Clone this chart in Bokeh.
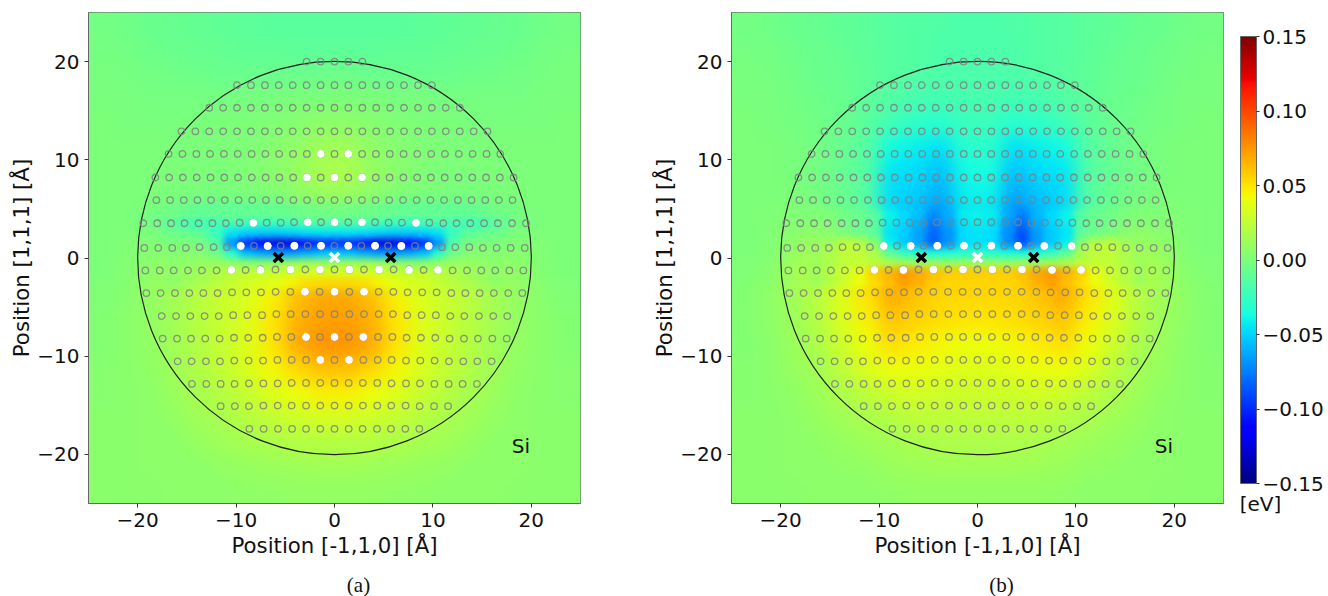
import numpy as np
from bokeh.embed import file_html
from bokeh.layouts import column, row
from bokeh.models import ColorBar, FixedTicker, Label, LinearColorMapper, Range1d
from bokeh.plotting import figure
from bokeh.resources import INLINE

# ---------- field, in meV, top row first ----------
BASE_A = [
 [-3,-4,-6,-8,-9,-10,-11,-12,-12,-12,-12,-12,-12,-11,-10,-9,-8,-6,-4,-3],
 [-2,-3,-5,-6,-8,-9,-10,-10,-11,-11,-11,-11,-10,-10,-9,-8,-6,-5,-3,-2],
 [-1,-2,-3,-4,-5,-6,-6,-6,-6,-5,-5,-6,-6,-6,-6,-5,-4,-3,-2,-1],
 [-1,-1,-2,-2,-2,-2,-1,-1,0,1,1,0,-1,-1,-2,-2,-2,-2,-1,-1],
 [0,-1,-1,-1,-1,0,1,2,4,6,6,4,2,1,0,-1,-1,-1,-1,0],
 [0,0,0,0,0,1,2,4,8,13,13,8,4,2,1,0,0,0,0,0],
 [0,0,0,0,0,1,2,5,10,17,17,10,5,2,1,0,0,0,0,0],
 [0,0,0,0,-1,-1,0,2,6,10,10,6,2,0,-1,-1,0,0,0,0],
 [0,0,-3,-10,-20,-22,-25,-25,-22,-17,-17,-22,-25,-25,-22,-20,-10,-3,0,0],
 [1,2,3,3,0,-30,-80,-90,-90,-85,-85,-90,-90,-80,-30,0,3,3,2,1],
 [1,3,7,12,18,24,26,28,30,32,32,30,28,26,24,18,12,7,3,1],
 [2,4,9,15,22,29,35,45,62,68,68,62,45,35,29,22,15,9,4,2],
 [3,5,9,15,22,29,36,50,66,72,72,66,50,36,29,22,15,9,5,3],
 [3,5,9,14,21,28,36,50,68,76,76,68,50,36,28,21,14,9,5,3],
 [4,5,8,13,19,26,34,44,55,62,62,55,44,34,26,19,13,8,5,4],
 [4,5,7,11,16,22,28,36,42,46,46,42,36,28,22,16,11,7,5,4],
 [5,5,6,9,13,17,22,26,30,32,32,30,26,22,17,13,9,6,5,5],
 [5,5,6,7,10,13,16,18,20,21,21,20,18,16,13,10,7,6,5,5],
 [5,5,6,6,7,9,10,11,12,13,13,12,11,10,9,7,6,6,5,5],
 [5,5,5,6,6,7,8,8,9,9,9,9,8,8,7,6,6,5,5,5],
]
BAND_A = [
 [-3,-5,-7,-7,-6,-6,-5,-4,-3,-2,-1,-1,-1,-2,-3,-4,-5,-6,-6,-7,-7,-5,-3],
 [-12,-20,-22,-20,-18,-22,-25,-25,-22,-18,-16,-16,-16,-18,-22,-25,-25,-22,-18,-20,-22,-20,-12],
 [-5,-8,-12,-25,-45,-50,-52,-52,-50,-46,-45,-45,-45,-46,-50,-52,-52,-50,-45,-25,-12,-8,-5],
 [0,0,-2,-15,-70,-100,-115,-125,-125,-108,-100,-100,-100,-108,-125,-125,-115,-100,-70,-15,-2,0,0],
 [3,4,3,-5,-30,-55,-62,-65,-65,-60,-55,-52,-55,-60,-65,-65,-62,-55,-30,-5,3,4,3],
 [5,8,10,10,8,5,5,8,10,12,12,12,12,12,10,8,5,5,8,10,10,8,5],
 [6,10,14,18,22,25,25,28,30,32,32,32,32,32,30,28,25,25,22,18,14,10,6],
 [7,12,17,22,28,32,34,38,45,52,55,55,55,52,45,38,34,32,28,22,17,12,7],
]
BASE_B = [
 [-3,-4,-6,-8,-10,-11,-13,-15,-16,-17,-17,-16,-15,-13,-11,-10,-8,-6,-4,-3],
 [-2,-3,-5,-7,-9,-11,-13,-15,-17,-17,-17,-17,-15,-13,-11,-9,-7,-5,-3,-2],
 [-1,-2,-4,-6,-8,-10,-13,-15,-17,-17,-17,-17,-15,-13,-10,-8,-6,-4,-2,-1],
 [-1,-1,-3,-5,-7,-11,-15,-19,-20,-19,-19,-20,-19,-15,-11,-7,-5,-3,-1,-1],
 [0,-1,-2,-4,-7,-12,-22,-28,-30,-24,-24,-30,-28,-22,-12,-7,-4,-2,-1,0],
 [0,0,-1,-3,-8,-15,-38,-42,-46,-30,-30,-46,-42,-38,-15,-8,-3,-1,0,0],
 [0,0,-1,-3,-8,-15,-45,-47,-56,-38,-36,-56,-47,-45,-15,-8,-3,-1,0,0],
 [1,0,0,-2,-7,-15,-48,-52,-62,-42,-40,-64,-54,-48,-15,-7,-2,0,0,1],
 [1,2,3,0,-6,-15,-50,-58,-72,-46,-45,-74,-60,-50,-15,-6,0,3,2,1],
 [1,2,8,14,10,-10,-40,-55,-55,-40,-38,-55,-55,-40,-10,10,14,8,2,1],
 [2,4,14,22,38,58,68,62,58,58,58,58,62,68,58,38,22,14,4,2],
 [3,6,13,22,36,50,68,60,55,54,54,55,60,68,50,36,22,13,6,3],
 [3,6,12,20,34,46,60,56,52,50,50,52,56,60,46,34,20,12,6,3],
 [3,5,11,18,30,42,52,48,44,42,42,44,48,52,42,30,18,11,5,3],
 [4,5,10,15,24,34,42,40,38,36,36,38,40,42,34,24,15,10,5,4],
 [4,5,8,12,18,24,30,32,30,30,30,30,32,30,24,18,12,8,5,4],
 [5,5,7,10,13,17,21,24,24,24,24,24,24,21,17,13,10,7,5,5],
 [5,5,6,8,10,12,15,17,18,18,18,18,17,15,12,10,8,6,5,5],
 [5,5,6,6,8,9,11,12,13,13,13,13,12,11,9,8,6,6,5,5],
 [5,5,5,6,6,7,8,9,9,9,9,9,9,8,7,6,6,5,5,5],
]
BAND_B = [
 [2,0,-4,-6,-12,-40,-48,-55,-70,-60,-42,-40,-42,-60,-74,-58,-48,-40,-12,-6,-4,0,2],
 [3,2,-3,-6,-12,-42,-50,-60,-76,-64,-45,-42,-45,-66,-80,-62,-50,-42,-12,-6,-3,2,3],
 [6,5,-1,-5,-11,-45,-52,-64,-82,-68,-48,-45,-48,-70,-88,-66,-52,-45,-11,-5,-1,5,6],
 [10,14,25,22,5,-42,-52,-64,-84,-68,-48,-45,-48,-70,-90,-66,-52,-42,5,22,25,14,10],
 [12,18,25,25,18,-10,-25,-32,-35,-33,-30,-30,-30,-33,-35,-32,-25,-10,18,25,25,18,12],
 [12,18,24,25,22,18,15,12,10,10,10,10,10,10,10,12,15,18,22,25,24,18,12],
 [12,20,30,40,58,66,74,70,62,58,58,58,58,58,62,70,74,66,58,40,30,20,12],
 [12,20,30,40,52,62,72,66,58,55,55,55,55,55,58,66,72,62,52,40,30,20,12],
]

# ---------- atoms, one row per lattice plane (Angstrom) ----------
ATOM_X = [
 [-2.83,-1.41,0,1.41,2.83],
 [-9.9,-8.49,-7.07,-5.66,-4.24,-2.83,-1.41,0,1.41,2.83,4.24,5.66,7.07,8.49,9.9],
 [-12.73,-11.31,-9.9,-8.49,-7.07,-5.66,-4.24,-2.83,-1.41,0,1.41,2.83,4.24,5.66,7.07,8.49,9.9,11.31,12.73],
 [-15.55,-14.14,-12.73,-11.31,-9.9,-8.49,-7.07,-5.66,-4.24,-2.83,-1.41,0,1.41,2.83,4.24,5.66,7.07,8.49,9.9,11.31,12.73,14.14,15.55],
 [-16.85,-15.45,-14.04,-12.64,-11.23,-9.83,-8.42,-7.02,-5.62,-4.21,-2.81,-1.4,0,1.4,2.81,4.21,5.62,7.02,8.42,9.83,11.23,12.64,14.04,15.45,16.85],
 [-18.2,-16.8,-15.4,-14.0,-12.6,-11.2,-9.8,-8.4,-7.0,-5.6,-4.2,-2.8,-1.4,0,1.4,2.8,4.2,5.6,7.0,8.4,9.8,11.2,12.6,14.0,15.4,16.8,18.2],
 [-18.1,-16.71,-15.32,-13.93,-12.54,-11.14,-9.75,-8.36,-6.97,-5.57,-4.18,-2.79,-1.39,0,1.39,2.79,4.18,5.57,6.97,8.36,9.75,11.14,12.54,13.93,15.32,16.71,18.1],
 [-19.43,-18.01,-16.61,-15.23,-13.81,-12.41,-11.03,-9.64,-8.25,-6.89,-5.47,-4.11,-2.72,-1.37,0,1.4,2.79,4.12,5.5,6.86,8.28,9.64,11.06,12.41,13.8,15.2,16.6,18.04,19.46],
 [-19.33,-17.91,-16.49,-15.1,-13.71,-12.28,-10.93,-9.53,-8.18,-6.79,-5.47,-4.08,-2.72,-1.37,-0.02,1.4,2.73,4.12,5.44,6.79,8.18,9.57,10.92,12.28,13.7,15.09,16.48,17.9,19.33],
 [-19.22,-17.76,-16.34,-14.89,-13.47,-11.98,-10.48,-9.03,-7.53,-6.0,-4.48,-2.96,-1.47,0,1.51,3.0,4.52,6.01,7.57,9.06,10.52,12.01,13.47,14.92,16.34,17.77,19.19],
 [-19.12,-17.67,-16.21,-14.75,-13.33,-11.88,-10.41,-8.96,-7.47,-5.98,-4.49,-3.0,-1.51,0,1.51,3.0,4.49,5.98,7.43,8.92,10.38,11.87,13.3,14.75,16.2,17.66,19.09],
 [-17.56,-16.1,-14.65,-13.2,-11.76,-10.3,-8.85,-7.36,-5.91,-4.45,-2.96,-1.47,0,1.51,3.0,4.49,5.94,7.4,8.86,10.3,11.77,13.2,14.68,16.14,17.56],
 [-17.46,-16.0,-14.58,-13.13,-11.67,-10.21,-8.76,-7.3,-5.84,-4.39,-2.89,-1.47,0,1.47,2.93,4.42,5.88,7.33,8.79,10.25,11.7,13.16,14.58,16.04,17.5],
 [-15.94,-14.52,-13.06,-11.64,-10.18,-8.72,-7.26,-5.8,-4.35,-2.89,-1.44,0,1.47,2.93,4.39,5.81,7.27,8.72,10.18,11.64,13.09,14.52,15.97],
 [-14.48,-13.02,-11.57,-10.15,-8.69,-7.23,-5.77,-4.35,-2.89,-1.44,0,1.44,2.89,4.35,5.8,7.27,8.69,10.15,11.6,13.02,14.48],
 [-11.57,-10.12,-8.69,-7.23,-5.77,-4.35,-2.89,-1.44,0,1.44,2.89,4.35,5.77,7.23,8.66,10.12,11.54],
 [-8.65,-7.2,-5.74,-4.31,-2.89,-1.44,0,1.44,2.86,4.32,5.74,7.2,8.62],
]
ATOM_Y = [
 [20.0]*5,
 [17.6]*15,
 [15.3]*19,
 [12.9]*23,
 [10.6]*25,
 [8.2]*27,
 [5.9]*27,
 [3.54]*7+[3.6]*4+[3.64]*7+[3.6]*4+[3.54]*7,
 [1.03]*4+[1.1]*3+[1.24]*15+[1.1]*3+[1.03]*4,
 [-1.27]*6+[-1.22]*2+[-1.17]*11+[-1.22]*2+[-1.27]*6,
 [-3.57]*6+[-3.5]*3+[-3.44]*9+[-3.5]*3+[-3.57]*6,
 [-5.91]*5+[-5.82]*3+[-5.71]*9+[-5.82]*3+[-5.91]*5,
 [-8.21]*5+[-8.12]*3+[-8.04]*9+[-8.12]*3+[-8.21]*5,
 [-10.52]*4+[-10.45]*3+[-10.38]*9+[-10.45]*3+[-10.52]*4,
 [-12.82]*4+[-12.77]*3+[-12.72]*7+[-12.77]*3+[-12.82]*4,
 [-15.09]*3+[-15.03]*11+[-15.09]*3,
 [-17.4]*13,
]
WHITE_A_X = [-1.4,1.4,-2.8,0,2.8,-8.25,-2.72,0,2.79,8.28,
             -9.53,-6.79,-4.08,-1.37,1.4,4.12,6.79,9.57,
             -10.48,-7.53,-4.48,-1.47,1.51,4.52,7.57,10.52,
             -3.0,0,3.0,-2.89,0,2.93,-1.44,1.47]
WHITE_A_Y = [10.6,10.6,8.2,8.2,8.2,3.58,3.64,3.64,3.64,3.58,
             1.22,1.22,1.24,1.24,1.24,1.24,1.22,1.22,
             -1.22,-1.22,-1.17,-1.17,-1.17,-1.17,-1.22,-1.22,
             -3.44,-3.44,-3.44,-8.04,-8.04,-8.04,-10.38,-10.38]
WHITE_B_X = [-9.53,-6.79,-4.08,-1.37,1.4,4.12,6.79,9.57,
             -10.48,-7.53,-4.48,-1.47,1.51,4.52,7.57,10.52]
WHITE_B_Y = [1.22,1.22,1.24,1.24,1.24,1.24,1.22,1.22,
             -1.22,-1.22,-1.17,-1.17,-1.17,-1.17,-1.22,-1.22]
BLACK_X = [-5.71, 5.71]
CROSS_Y = [0.05, 0.05]
WHITE_CROSS_X = [0]
WHITE_CROSS_Y = [0.05]

AXIS_TICKS = [-20, -10, 0, 10, 20]
CB_TICKS = [-0.15, -0.10, -0.05, 0.0, 0.05, 0.10, 0.15]
CB_LABELS = ["\u22120.15", "\u22120.10", "\u22120.05", "0.00", "0.05", "0.10", "0.15"]

# ---------- jet colour map ----------
t = np.linspace(0, 1, 256)
r = np.interp(t, [0, .35, .66, .89, 1], [0, 0, 1, 1, .5])
g = np.interp(t, [0, .125, .375, .64, .91, 1], [0, 0, 1, 1, 0, 0])
b = np.interp(t, [0, .11, .34, .65, 1], [.5, 1, 1, 0, 0])
JET = ["#%02x%02x%02x" % (int(a*255), int(c*255), int(d*255)) for a, c, d in zip(r, g, b)]
mapper = LinearColorMapper(palette=JET, low=-0.15, high=0.15)


def panel(base, band, wx, wy, width, border_right):
    p = figure(width=width, height=565, output_backend="svg", toolbar_location=None,
               x_range=Range1d(-25, 25), y_range=Range1d(-25, 25),
               min_border_left=88, min_border_right=border_right,
               min_border_top=12, min_border_bottom=62)
    p.grid.visible = False
    p.outline_line_color = "#666666"
    base_img = np.array(base, dtype=float)[::-1] / 1000
    band_img = np.array(band, dtype=float)[::-1] / 1000
    # image 0 backs the frame edges; images 1 and 2 are softened on the page below
    p.image(image=[base_img], x=-25, y=-25, dw=50, dh=50, color_mapper=mapper)
    p.image(image=[base_img], x=-25, y=-25, dw=50, dh=50, color_mapper=mapper)
    p.image(image=[band_img], x=-17.25, y=-3, dw=34.5, dh=8, color_mapper=mapper)
    p.circle(x=[0], y=[0], radius=20, fill_color=None, line_color="#222222", line_width=1.2)
    ax = [v for row_ in ATOM_X for v in row_]
    ay = [v for row_ in ATOM_Y for v in row_]
    p.scatter(ax, ay, marker="circle", size=6.5, fill_alpha=0, line_color="#808080",
              line_alpha=0.85, line_width=1.3)
    p.scatter(wx, wy, marker="circle", size=7, fill_color="white", line_color="white")
    p.scatter(BLACK_X, CROSS_Y, marker="x", size=13, line_color="black", line_width=3.5)
    p.scatter(WHITE_CROSS_X, WHITE_CROSS_Y, marker="x", size=13, line_color="white", line_width=3.5)
    for axis, name in ((p.xaxis, "Position [-1,1,0] [\u00c5]"), (p.yaxis, "Position [1,1,1] [\u00c5]")):
        axis.ticker = FixedTicker(ticks=AXIS_TICKS)
        axis.major_label_overrides = {v: str(v).replace("-", "\u2212") for v in AXIS_TICKS}
        axis.major_label_text_font = "DejaVu Sans"
        axis.major_label_text_font_size = "20px"
        axis.major_label_text_color = "#111111"
        axis.axis_label = name
        axis.axis_label_text_font = "DejaVu Sans"
        axis.axis_label_text_font_size = "21.3px"
        axis.axis_label_text_font_style = "normal"
        axis.axis_label_text_color = "#111111"
        axis.axis_line_color = "#666666"
        axis.major_tick_line_color = "#333333"
        axis.major_tick_in = 0
        axis.major_tick_out = 4
        axis.minor_tick_line_color = None
    p.xaxis.axis_label_standoff = 3
    p.yaxis.axis_label_standoff = 0
    p.add_layout(Label(x=18.95, y=-19.15, text="Si", text_align="center", text_baseline="middle",
                       text_font="DejaVu Sans", text_font_size="20px", text_color="#111111"))
    return p


def bare(width, height):
    p = figure(width=width, height=height, output_backend="svg", toolbar_location=None,
               x_axis_type=None, y_axis_type=None, x_range=Range1d(0, width),
               y_range=Range1d(0, height), min_border=0)
    p.grid.visible = False
    p.outline_line_color = None
    return p


p1 = panel(BASE_A, BAND_A, WHITE_A_X, WHITE_A_Y, 643, 63)
p2 = panel(BASE_B, BAND_B, WHITE_B_X, WHITE_B_Y, 581, 1)

p3 = bare(104, 565)
cb = ColorBar(color_mapper=mapper, width=16, height=447, location=(16, 82), padding=0, margin=0,
              ticker=FixedTicker(ticks=CB_TICKS),
              major_label_overrides=dict(zip(CB_TICKS, CB_LABELS)),
              major_label_text_font="DejaVu Sans", major_label_text_font_size="20px",
              major_label_text_color="#111111", label_standoff=3,
              major_tick_line_color="#333333", major_tick_in=0, major_tick_out=3,
              bar_line_color="#666666", minor_tick_line_color=None)
p3.add_layout(cb)
p3.add_layout(Label(x=36, y=62, text="[eV]", text_align="center", text_baseline="middle",
                    text_font="DejaVu Sans", text_font_size="20px", text_color="#111111"))

strip = bare(1328, 31)
for tag, x in (("(a)", 358), ("(b)", 1001)):
    strip.add_layout(Label(x=x, y=12, text=tag, text_align="center", text_baseline="middle",
                           text_font="Liberation Serif", text_font_size="21px", text_color="#111111"))

html = file_html(column(row(p1, p2, column(p3), spacing=0), strip, spacing=0), INLINE)
# Soften the image cells on the page (display only; the arrays above are unchanged).
html = html.replace("</body>", """<script>
function walk(root){
  var imgs=root.querySelectorAll('image');
  if(imgs.length===3){
    imgs[1].style.filter='blur(9px)';
    imgs[2].style.filter='blur(3.5px)';
  }
  root.querySelectorAll('*').forEach(function(el){
    if(el.shadowRoot){walk(el.shadowRoot);}
  });
}
setInterval(function(){walk(document);},100);
</script>
</body>""")
open("out.html", "w").write(html)
